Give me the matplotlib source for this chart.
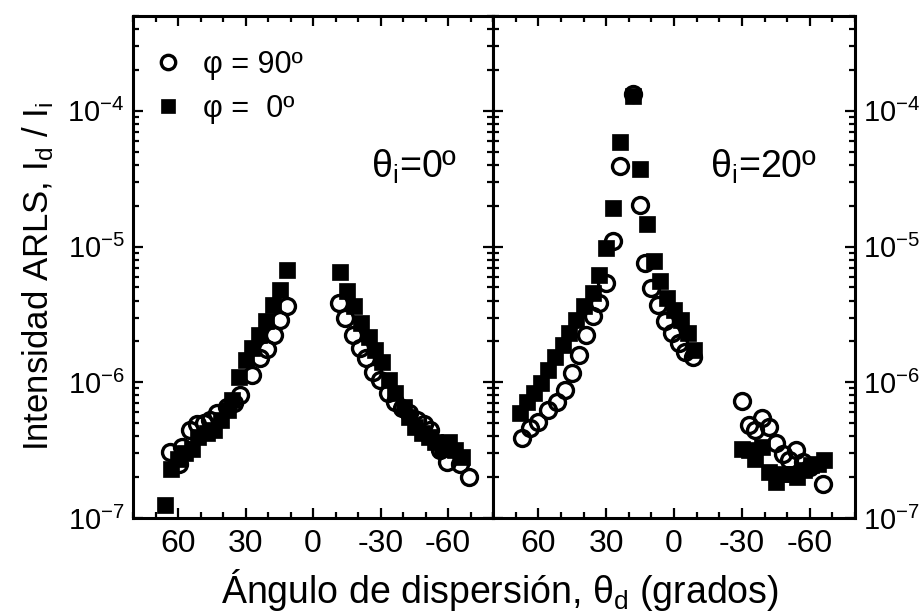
import numpy as np
import matplotlib
matplotlib.use("Agg")
import matplotlib.pyplot as plt
from matplotlib.ticker import MultipleLocator, LogLocator, NullFormatter

plt.rcParams['font.family'] = ['Liberation Sans', 'DejaVu Sans']
plt.rcParams['mathtext.fontset'] = 'custom'
plt.rcParams['mathtext.rm'] = 'Liberation Sans'
plt.rcParams['mathtext.it'] = 'Liberation Sans:italic'
plt.rcParams['mathtext.bf'] = 'Liberation Sans:bold'
plt.rcParams['mathtext.sf'] = 'Liberation Sans'
plt.rcParams['axes.unicode_minus'] = False

# ---- data: theta_i = 0 deg ----
sq0_x = [66, 63, 60, 57, 54, 51, 47, 44, 41, 38, 36, 33, 30, 27, 24, 21, 18, 14.5, 11.6,
         -12, -15, -18, -21.5, -24.7, -27.7, -30.7, -33.6, -36.6, -40.3, -42.5, -45.5,
         -48.4, -51.4, -54.4, -57.3, -60.3, -63.2, -66.2]
sq0_y = [1.24e-7, 2.28e-7, 2.74e-7, 2.99e-7, 3.25e-7, 3.96e-7, 4.20e-7, 4.44e-7, 5.26e-7,
         6.24e-7, 7.40e-7, 1.10e-6, 1.46e-6, 1.78e-6, 2.24e-6, 2.81e-6, 3.72e-6, 4.81e-6, 6.76e-6,
         6.46e-6, 4.68e-6, 3.62e-6, 2.73e-6, 2.17e-6, 1.73e-6, 1.42e-6, 1.04e-6, 8.30e-7,
         6.61e-7, 5.57e-7, 4.70e-7, 4.20e-7, 3.96e-7, 3.64e-7, 3.25e-7, 3.64e-7, 3.16e-7, 2.82e-7]
ci0_x = [63.4, 59.7, 58.2, 54.5, 51.6, 48.6, 45.6, 42.7, 38.2, 35.3, 32.3, 27.1, 23.4, 20.4,
         17.5, 14.5, 11.6,
         -11.4, -14.4, -17.8, -20.7, -23.7, -26.7, -29.9, -33.2, -36.6, -39.6, -42.5, -46.2,
         -49.2, -52.1, -56.6, -59.6, -65.5, -69.2]
ci0_y = [3.04e-7, 2.52e-7, 3.34e-7, 4.44e-7, 4.92e-7, 5.02e-7, 5.26e-7, 5.90e-7, 6.61e-7,
         7.00e-7, 8.05e-7, 1.13e-6, 1.50e-6, 1.75e-6, 2.24e-6, 2.88e-6, 3.62e-6,
         3.87e-6, 2.97e-6, 2.24e-6, 1.78e-6, 1.50e-6, 1.20e-6, 1.04e-6, 8.30e-7, 7.19e-7,
         6.43e-7, 5.90e-7, 5.26e-7, 4.92e-7, 4.44e-7, 3.16e-7, 2.59e-7, 2.52e-7, 2.00e-7]

# ---- data: theta_i = 20 deg ----
sq20_x = [68, 65, 62, 59, 55.5, 52.5, 49, 46.5, 43.5, 40, 36, 33, 30, 27, 24, 18, 15, 12,
          9, 6, 3, 0, -3, -6, -9,
          -30, -33, -36, -39, -42, -45, -48, -51.5, -54.5, -57.5, -60.5, -63.5, -66.5]
sq20_log = [-6.229, -6.143, -6.081, -6.007, -5.909, -5.811, -5.724, -5.638, -5.540, -5.441,
            -5.342, -5.207, -5.010, -4.714, -4.229, -3.889, -4.426, -4.837,
            -5.109, -5.256, -5.379, -5.466, -5.540, -5.638, -5.761,
            -6.488, -6.500, -6.562, -6.476, -6.661, -6.735, -6.673, -6.673, -6.698,
            -6.648, -6.611, -6.599, -6.574]
ci20_x = [67, 63.5, 60, 55.5, 51.5, 48, 45, 42, 39, 36, 33, 30, 27, 24, 18, 15, 13, 10, 7,
          4, 1, -2, -5, -8.6,
          -30, -33, -36, -39, -42, -45, -48, -51, -54, -57, -60, -66]
ci20_log = [-6.414, -6.340, -6.291, -6.205, -6.143, -6.057, -5.93, -5.80, -5.65, -5.515,
            -5.416, -5.268, -4.961, -4.406, -3.877, -4.690, -5.121, -5.306, -5.429,
            -5.552, -5.638, -5.712, -5.774, -5.811,
            -6.138, -6.316, -6.353, -6.266, -6.328, -6.451, -6.530, -6.574, -6.500,
            -6.587, -6.624, -6.747]
sq20_y = [10 ** v for v in sq20_log]
ci20_y = [10 ** v for v in ci20_log]

leg_labels = ['\u03c6 = 90\u00ba', '\u03c6 =  0\u00ba']
panel_labels = ['\u03b8$_\\mathregular{i}$=0\u00ba', '\u03b8$_\\mathregular{i}$=20\u00ba']
xlabel = '\u00c1ngulo de dispersi\u00f3n, \u03b8$_\\mathregular{d}$ (grados)'
ylabel = 'Intensidad ARLS, I$_\\mathregular{d}$ / I$_\\mathregular{i}$'

W, H = 924, 615
fig = plt.figure(figsize=(W / 100, H / 100), dpi=100)
bot = 1 - 518 / H
top = 1 - 16 / H
ax1 = fig.add_axes([133 / W, bot, 360 / W, top - bot])
ax2 = fig.add_axes([493 / W, bot, 362 / W, top - bot])

ms = 11.5
mew = 2.4
for ax, sx, sy, cx, cy in [(ax1, sq0_x, sq0_y, ci0_x, ci0_y),
                           (ax2, sq20_x, sq20_y, ci20_x, ci20_y)]:
    ax.plot(sx, sy, ls='none', marker='s', ms=ms, mfc='black', mec='black', mew=0.5,
            label=leg_labels[1], zorder=3)
    ax.plot(cx, cy, ls='none', marker='o', ms=ms, mfc='none', mec='black', mew=mew,
            label=leg_labels[0], zorder=4)
    ax.set_yscale('log')
    ax.set_ylim(1e-7, 5e-4)
    ax.set_xlim(80, -80)
    ax.xaxis.set_major_locator(MultipleLocator(30))
    ax.xaxis.set_minor_locator(MultipleLocator(10))
    ax.yaxis.set_major_locator(LogLocator(base=10, numticks=10))
    ax.yaxis.set_minor_locator(LogLocator(base=10, subs=np.arange(2, 10), numticks=10))
    ax.yaxis.set_minor_formatter(NullFormatter())
    for s in ax.spines.values():
        s.set_linewidth(2.2)
    ax.tick_params(which='both', direction='in', top=True, bottom=True, left=True,
                   right=True, width=1.6)
    ax.tick_params(which='major', length=7)
    ax.tick_params(which='minor', length=4)
    ax.tick_params(axis='x', pad=8, labelsize=23)
    ax.tick_params(axis='y', labelsize=21)

ax1.tick_params(axis='y', labelleft=True, labelright=False, pad=6)
ax2.tick_params(axis='y', labelleft=False, labelright=True, pad=6)

h, l = ax1.get_legend_handles_labels()
ax1.legend([h[1], h[0]], [l[1], l[0]], loc='upper left', frameon=False, fontsize=22,
           bbox_to_anchor=(-0.03, 0.975), handletextpad=0.35, labelspacing=0.45,
           borderaxespad=0.3, handlelength=1.6, markerscale=0.9)

ax1.text(0.90, 0.70, panel_labels[0], transform=ax1.transAxes, ha='right', va='center',
         fontsize=27)
ax2.text(0.895, 0.70, panel_labels[1], transform=ax2.transAxes, ha='right', va='center',
         fontsize=27)

fig.text(500 / W, 1 - 590 / H, xlabel, ha='center', va='center', fontsize=27)
fig.text(38 / W, 1 - 276 / H, ylabel, ha='center', va='center', rotation=90, fontsize=25)

fig.savefig('out.png', dpi=100)
